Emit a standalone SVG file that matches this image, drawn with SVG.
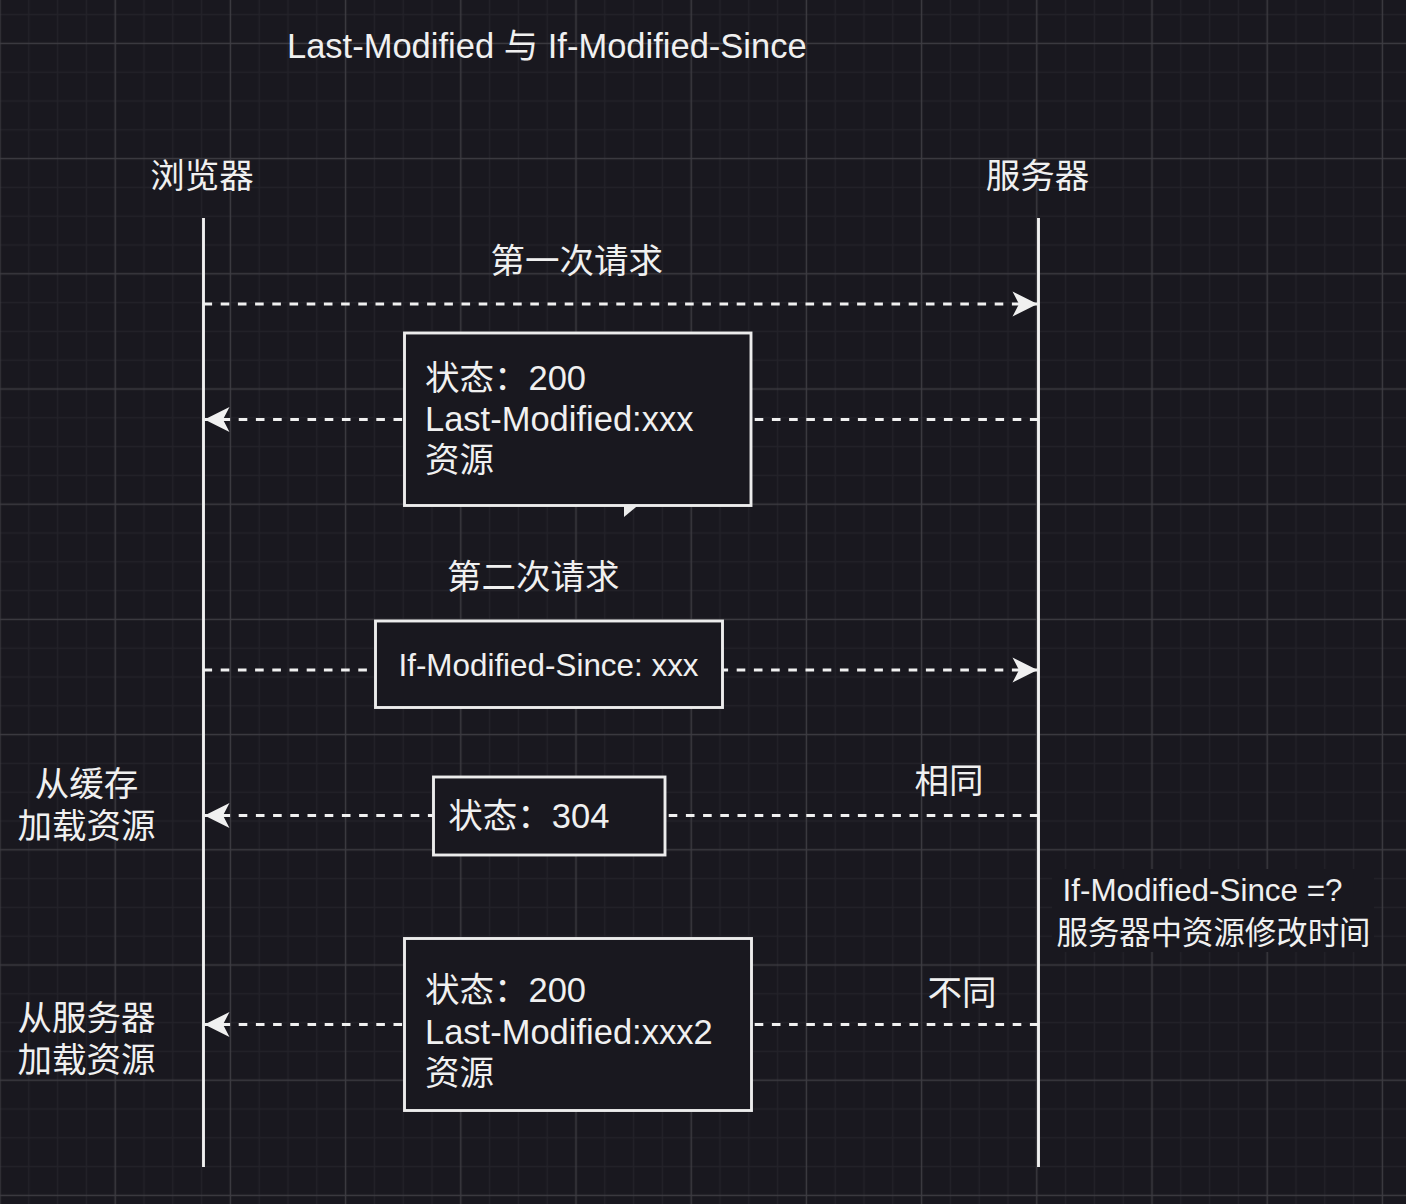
<svg xmlns="http://www.w3.org/2000/svg" width="1406" height="1204" viewBox="0 0 1406 1204">
  <defs>
    <pattern id="grid" patternUnits="userSpaceOnUse" x="-14.4" y="29" width="115.2" height="115.2">
      <rect x="0" y="0" width="115.2" height="115.2" fill="#19181f"/>
      <g fill="#232229">
        <rect x="42.5" y="0" width="1.4" height="115.2"/>
        <rect x="71.3" y="0" width="1.4" height="115.2"/>
        <rect x="100.1" y="0" width="1.4" height="115.2"/>
        <rect x="0" y="42.5" width="115.2" height="1.4"/>
        <rect x="0" y="71.3" width="115.2" height="1.4"/>
        <rect x="0" y="100.1" width="115.2" height="1.4"/>
      </g>
      <g fill="#3d3c42">
        <rect x="13.7" y="0" width="1.4" height="115.2"/>
        <rect x="0" y="13.7" width="115.2" height="1.4"/>
      </g>
    </pattern>
    <marker id="arrow" markerUnits="userSpaceOnUse" markerWidth="26" markerHeight="26" refX="25" refY="12.5" orient="auto" overflow="visible">
      <path d="M25,12.5 L0,0 L6.5,12.5 L0,25 Z" fill="#f0f0f0"/>
    </marker>
  </defs>
  <style>
    text { font-family: 'Liberation Sans', 'Noto Sans CJK SC', sans-serif; fill: #f0f0f0; }
    .t34 { font-size: 34.5px; }
    .t31 { font-size: 31.4px; }
    .mid { text-anchor: middle; }
    .life { stroke: #f0f0f0; stroke-width: 2.9; fill: none; }
    .msg { stroke: #f0f0f0; stroke-width: 2.9; stroke-dasharray: 8.6 8.6; fill: none; marker-end: url(#arrow); }
    .box { fill: #19181f; stroke: #ececec; stroke-width: 2.9; }
  </style>

  <rect x="0" y="0" width="1406" height="1204" fill="url(#grid)"/>

  <g id="title">
    <text class="t34" x="287" y="58">Last-Modified 与 If-Modified-Since</text>
  </g>

  <g id="browser">
    <text class="t34 mid" x="202" y="187.5">浏览器</text>
    <line class="life" x1="203.5" y1="218" x2="203.5" y2="1167"/>
  </g>

  <g id="server">
    <text class="t34 mid" x="1037.5" y="187.5">服务器</text>
    <line class="life" x1="1038.5" y1="218" x2="1038.5" y2="1167"/>
  </g>

  <g id="connectors">
    <line class="msg" x1="203.5" y1="304" x2="1037.5" y2="304"/>
    <line class="msg" x1="1038.5" y1="419.5" x2="204.5" y2="419.5"/>
    <line class="msg" x1="203.5" y1="670" x2="1037.5" y2="670"/>
    <line class="msg" x1="1038.5" y1="815.5" x2="204.5" y2="815.5"/>
    <line class="msg" x1="1038.5" y1="1024.5" x2="204.5" y2="1024.5"/>
  </g>

  <g id="label-first-request">
    <text class="t34 mid" x="576.7" y="272.5">第一次请求</text>
  </g>

  <g id="response-200">
    <rect class="box" x="404.5" y="333" width="346.5" height="172.5"/>
    <polygon points="624,505 638.5,505 624,517" fill="#ececec"/>
    <text class="t34" x="425" y="390">状态：200</text>
    <text class="t34" x="425" y="431">Last-Modified:xxx</text>
    <text class="t34" x="425" y="472">资源</text>
  </g>

  <g id="label-second-request">
    <text class="t34 mid" x="533.3" y="589">第二次请求</text>
  </g>

  <g id="request-ims">
    <rect class="box" x="375.5" y="621" width="347" height="86.5"/>
    <text class="t31 mid" x="548.5" y="676">If-Modified-Since: xxx</text>
  </g>

  <g id="label-same">
    <text class="t34 mid" x="949" y="792.5">相同</text>
  </g>

  <g id="response-304">
    <rect class="box" x="433.5" y="777" width="231.5" height="78"/>
    <text class="t34" x="448.3" y="828">状态：304</text>
  </g>

  <g id="label-from-cache">
    <text class="t34 mid" x="86.5" y="796">从缓存</text>
    <text class="t34 mid" x="86.5" y="838">加载资源</text>
  </g>

  <g id="label-compare">
    <rect x="1052" y="869" width="322" height="83" fill="#19181f"/>
    <text class="t31" x="1062.5" y="901">If-Modified-Since =?</text>
    <text class="t31" x="1056.5" y="944">服务器中资源修改时间</text>
  </g>

  <g id="label-different">
    <text class="t34 mid" x="962" y="1005">不同</text>
  </g>

  <g id="response-200-new">
    <rect class="box" x="404.5" y="938.5" width="347" height="172"/>
    <text class="t34" x="425" y="1002">状态：200</text>
    <text class="t34" x="425" y="1043.5">Last-Modified:xxx2</text>
    <text class="t34" x="425" y="1085">资源</text>
  </g>

  <g id="label-from-server">
    <text class="t34 mid" x="86.5" y="1030">从服务器</text>
    <text class="t34 mid" x="86.5" y="1071.5">加载资源</text>
  </g>
</svg>
